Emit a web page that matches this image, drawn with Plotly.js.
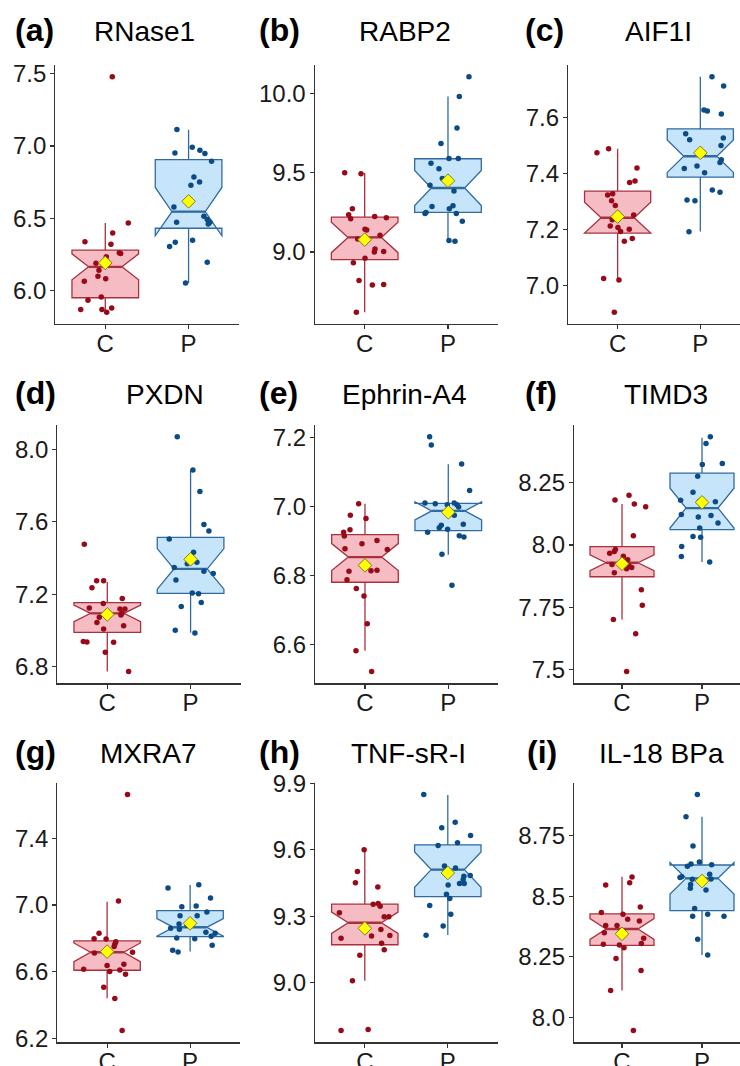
<!DOCTYPE html>
<html><head><meta charset="utf-8">
<script src="https://cdn.plot.ly/plotly-3.0.1.min.js"></script>
<style>html,body{margin:0;padding:0;background:#fff}#chart{width:740px;height:1066px}</style>
</head><body><div id="chart"></div>
<script>
// ---------- DATA ----------
const genes = ['RNase1', 'RABP2', 'AIF1I', 'PXDN', 'Ephrin-A4', 'TIMD3', 'MXRA7', 'TNF-sR-I', 'IL-18 BPa'];
const panelLabels = ['(a)', '(b)', '(c)', '(d)', '(e)', '(f)', '(g)', '(h)', '(i)'];
const groups = ['C', 'P'];

// observations (y) and horizontal jitter offsets (category units)
const RNase1_C = [7.479, 6.468, 6.399, 6.337, 6.320, 6.261, 6.256, 6.233, 6.189, 6.185, 6.140, 6.099, 6.081, 6.064, 5.956, 5.933, 5.869, 5.869, 5.850, 5.880];
const RNase1_C_jit = [0.084, 0.276, 0.089, -0.244, 0.068, 0.168, 0.185, 0.012, -0.112, -0.012, -0.076, -0.088, 0.005, -0.252, -0.048, -0.208, -0.295, -0.040, 0.017, 0.077];
const RNase1_P = [7.115, 6.991, 6.952, 6.970, 6.949, 6.894, 6.786, 6.751, 6.728, 6.578, 6.514, 6.491, 6.472, 6.461, 6.472, 6.348, 6.334, 6.304, 6.196, 6.053];
const RNase1_P_jit = [-0.14, 0.044, -0.164, 0.136, 0.196, 0.276, 0.064, 0.132, 0.028, -0.176, 0.184, 0.224, 0.256, 0.236, -0.144, 0.048, -0.16, -0.228, 0.224, -0.036];

const RABP2_C = [9.499, 9.493, 9.273, 9.235, 9.210, 9.224, 9.216, 9.143, 9.138, 9.105, 9.082, 9.019, 9.000, 9.004, 8.960, 8.933, 8.820, 8.792, 8.795, 8.621];
const RABP2_C_jit = [-0.24, -0.044, -0.148, -0.192, -0.168, 0.12, 0.26, 0.004, 0.024, 0.184, -0.084, 0.124, 0.116, 0.228, 0.004, -0.136, -0.068, 0.092, 0.228, -0.1];
const RABP2_P = [10.103, 9.979, 9.780, 9.683, 9.589, 9.589, 9.558, 9.524, 9.463, 9.421, 9.384, 9.287, 9.291, 9.273, 9.243, 9.249, 9.243, 9.193, 9.073, 9.067];
const RABP2_P_jit = [0.252, 0.136, 0.108, -0.084, 0.012, 0.124, -0.204, -0.108, -0.068, -0.216, 0.072, -0.192, 0.06, 0.016, -0.276, -0.264, 0.1, 0.172, 0.012, 0.084];

const AIF1I_C = [7.475, 7.490, 7.421, 7.374, 7.369, 7.324, 7.329, 7.304, 7.287, 7.253, 7.236, 7.213, 7.208, 7.194, 7.202, 7.159, 7.169, 7.026, 7.020, 6.905];
const AIF1I_C_jit = [-0.25, -0.109, 0.234, 0.21, 0.145, -0.121, -0.06, -0.073, -0.028, 0.194, -0.065, -0.089, 0.004, 0.036, 0.141, 0.081, 0.177, -0.169, 0.016, -0.04];
const AIF1I_P = [7.747, 7.714, 7.628, 7.625, 7.614, 7.543, 7.522, 7.528, 7.501, 7.476, 7.450, 7.440, 7.428, 7.419, 7.404, 7.342, 7.334, 7.306, 7.304, 7.193];
const AIF1I_P_jit = [0.141, 0.282, 0.044, 0.085, 0.254, -0.177, -0.129, 0.278, 0.25, 0.032, 0.254, 0.238, -0.04, -0.194, 0.052, 0.145, 0.238, -0.161, -0.065, -0.137];

const PXDN_C = [7.476, 7.274, 7.274, 7.235, 7.123, 7.149, 7.176, 7.118, 7.118, 7.094, 7.085, 7.072, 7.044, 7.026, 7.008, 6.938, 6.936, 6.934, 6.879, 6.772];
const PXDN_C_jit = [-0.276, -0.128, -0.044, -0.184, -0.216, -0.048, 0.18, 0.152, 0.212, 0.176, 0.164, -0.096, -0.124, 0.196, -0.044, -0.288, -0.244, 0.076, -0.024, 0.256];
const PXDN_P = [8.071, 7.887, 7.768, 7.586, 7.549, 7.505, 7.432, 7.369, 7.377, 7.347, 7.327, 7.314, 7.278, 7.206, 7.202, 7.154, 7.132, 7.000, 6.985];
const PXDN_P_jit = [-0.16, 0.028, 0.112, 0.16, 0.22, -0.256, 0.036, -0.04, 0.076, -0.196, 0.16, 0.272, -0.176, 0.02, 0.096, 0.128, -0.112, -0.184, 0.052];

const EphrinA4_C = [7.008, 6.974, 6.965, 6.925, 6.932, 6.914, 6.901, 6.892, 6.877, 6.875, 6.832, 6.812, 6.813, 6.815, 6.787, 6.762, 6.740, 6.660, 6.581, 6.521];
const EphrinA4_C_jit = [-0.076, -0.176, 0.012, -0.256, -0.18, -0.248, 0.144, -0.036, -0.24, 0.268, -0.016, -0.192, 0.072, 0.144, -0.216, -0.104, -0.012, 0.028, -0.108, 0.08];
const EphrinA4_P = [7.202, 7.178, 7.123, 7.046, 7.010, 7.008, 7.010, 7.005, 6.998, 7.005, 6.974, 6.945, 6.938, 6.925, 6.934, 6.948, 6.915, 6.911, 6.861, 6.771];
const EphrinA4_P_jit = [-0.224, -0.204, 0.16, 0.256, -0.28, -0.156, 0.072, 0.104, 0.124, -0.012, 0.072, -0.084, -0.108, -0.248, -0.008, 0.18, 0.132, 0.188, -0.076, 0.044];

const TIMD3_C = [8.200, 8.180, 8.164, 8.153, 8.037, 7.982, 7.974, 7.967, 7.955, 7.941, 7.922, 7.916, 7.910, 7.905, 7.889, 7.821, 7.759, 7.702, 7.645, 7.493];
const TIMD3_C_jit = [0.0875, -0.0875, 0.154, 0.296, 0.142, -0.083, -0.096, -0.154, 0.017, 0.071, -0.125, 0.0875, 0.121, 0.058, -0.096, 0.242, 0.254, -0.108, 0.171, 0.058];
const TIMD3_P = [8.434, 8.407, 8.323, 8.327, 8.276, 8.212, 8.179, 8.175, 8.173, 8.122, 8.118, 8.112, 8.088, 8.068, 8.034, 8.031, 7.994, 7.954, 7.932];
const TIMD3_P_jit = [0.104, 0.05, 0.004, 0.254, -0.054, -0.1125, -0.267, -0.033, 0.167, -0.258, 0.1125, -0.046, 0.2, -0.029, -0.1125, -0.017, -0.254, -0.258, 0.096];

const MXRA7_C = [7.664, 7.024, 6.830, 6.798, 6.796, 6.780, 6.764, 6.750, 6.712, 6.716, 6.716, 6.636, 6.644, 6.614, 6.600, 6.610, 6.584, 6.506, 6.438, 6.246];
const MXRA7_C_jit = [0.246, 0.137, -0.097, -0.157, -0.012, 0.105, 0.093, 0.085, -0.153, 0.032, 0.306, 0, 0.202, -0.282, 0.032, 0.153, 0.222, -0.04, 0.093, 0.181];
const MXRA7_P = [7.102, 7.122, 7.042, 6.990, 6.994, 6.958, 6.936, 6.936, 6.886, 6.878, 6.860, 6.854, 6.836, 6.830, 6.812, 6.802, 6.798, 6.758, 6.728, 6.718];
const MXRA7_P_jit = [-0.266, 0.105, 0.246, -0.1, 0.073, 0.202, -0.121, 0.085, -0.133, -0.036, -0.234, -0.129, 0.19, 0.302, 0.254, -0.161, 0.056, 0.266, -0.21, -0.145];

const TNFsRI_C = [9.600, 9.502, 9.451, 9.432, 9.354, 9.357, 9.345, 9.315, 9.297, 9.297, 9.240, 9.200, 9.210, 9.213, 9.178, 9.148, 9.124, 9.009, 8.784, 8.789];
const TNFsRI_C_jit = [-0.008, -0.089, -0.113, 0.157, 0.101, 0.161, 0.185, -0.306, 0.234, 0.29, 0.194, -0.286, 0.081, 0.302, 0.202, 0.234, -0.06, -0.149, -0.286, 0.04];
const TNFsRI_P = [9.849, 9.724, 9.699, 9.664, 9.619, 9.631, 9.526, 9.517, 9.480, 9.483, 9.465, 9.447, 9.447, 9.441, 9.399, 9.380, 9.348, 9.309, 9.256, 9.214];
const TNFsRI_P_jit = [-0.29, 0.089, -0.073, 0.274, -0.117, 0.117, -0.04, 0.093, 0.194, 0.27, 0.185, 0.141, 0.198, 0.004, -0.016, 0.024, -0.218, 0.036, -0.056, -0.262];

const IL18BPa_C = [8.547, 8.580, 8.556, 8.456, 8.433, 8.426, 8.405, 8.398, 8.379, 8.379, 8.349, 8.327, 8.302, 8.299, 8.288, 8.305, 8.243, 8.194, 8.111, 7.946];
const IL18BPa_C_jit = [-0.204, 0.125, 0.096, 0.229, -0.258, 0.0125, 0.071, 0.217, -0.204, -0.0625, -0.221, 0.271, -0.233, -0.033, 0.025, 0.242, -0.075, 0.238, -0.142, 0.142];
const IL18BPa_P = [8.920, 8.828, 8.707, 8.624, 8.633, 8.641, 8.630, 8.581, 8.577, 8.549, 8.591, 8.571, 8.570, 8.533, 8.526, 8.449, 8.418, 8.426, 8.418, 8.323, 8.258];
const IL18BPa_P_jit = [-0.058, -0.2, -0.1125, -0.183, -0.1375, -0.033, 0.121, -0.254, -0.275, -0.142, 0.0958, 0.1125, -0.121, -0.146, 0.05, -0.092, -0.117, 0.071, 0.275, -0.054, 0.071];

// box statistics per gene (same order as genes)
const q1C     = [5.950, 8.952, 7.188, 6.989, 6.780, 7.873, 6.608, 9.171, 8.297];
const medianC = [6.164, 9.092, 7.243, 7.094, 6.853, 7.929, 6.716, 9.270, 8.365];
const q3C     = [6.279, 9.220, 7.338, 7.153, 6.918, 7.994, 6.784, 9.354, 8.427];
const lowC    = [5.850, 8.621, 7.021, 6.772, 6.581, 7.702, 6.440, 9.009, 8.111];
const highC   = [6.468, 9.497, 7.490, 7.268, 7.008, 8.164, 7.020, 9.600, 8.581];
const notchC  = [0.090, 0.096, 0.055, 0.046, 0.039, 0.032, 0.056, 0.048, 0.043];
const meanC   = [6.191, 9.078, 7.247, 7.088, 6.829, 7.925, 6.720, 9.245, 8.345];

const q1P     = [6.431, 9.249, 7.388, 7.204, 6.930, 8.062, 6.810, 9.388, 8.441];
const medianP = [6.546, 9.403, 7.463, 7.340, 6.987, 8.148, 6.866, 9.510, 8.574];
const q3P     = [6.906, 9.587, 7.561, 7.514, 7.009, 8.288, 6.966, 9.622, 8.629];
const lowP    = [6.053, 9.071, 7.194, 6.987, 6.860, 7.932, 6.720, 9.215, 8.258];
const highP   = [7.113, 9.979, 7.747, 7.887, 7.122, 8.430, 7.120, 9.847, 8.828];
const notchP  = [0.167, 0.110, 0.058, 0.112, 0.026, 0.080, 0.053, 0.080, 0.065];
const meanP   = [6.617, 9.449, 7.475, 7.393, 6.983, 8.171, 6.890, 9.495, 8.563];

// y tick values and labels
const yTickVals = [[6.0, 6.5, 7.0, 7.5], [9.0, 9.5, 10.0], [7.0, 7.2, 7.4, 7.6], [6.8, 7.2, 7.6, 8.0], [6.6, 6.8, 7.0, 7.2], [7.5, 7.75, 8.0, 8.25], [6.2, 6.6, 7.0, 7.4], [9.0, 9.3, 9.6, 9.9], [8.0, 8.25, 8.5, 8.75]];
const yTickText = [['6.0', '6.5', '7.0', '7.5'], ['9.0', '9.5', '10.0'], ['7.0', '7.2', '7.4', '7.6'], ['6.8', '7.2', '7.6', '8.0'], ['6.6', '6.8', '7.0', '7.2'], ['7.5', '7.75', '8.0', '8.25'], ['6.2', '6.6', '7.0', '7.4'], ['9.0', '9.3', '9.6', '9.9'], ['8.0', '8.25', '8.5', '8.75']];

const obsC = [RNase1_C, RABP2_C, AIF1I_C, PXDN_C, EphrinA4_C, TIMD3_C, MXRA7_C, TNFsRI_C, IL18BPa_C];
const jitC = [RNase1_C_jit, RABP2_C_jit, AIF1I_C_jit, PXDN_C_jit, EphrinA4_C_jit, TIMD3_C_jit, MXRA7_C_jit, TNFsRI_C_jit, IL18BPa_C_jit];
const obsP = [RNase1_P, RABP2_P, AIF1I_P, PXDN_P, EphrinA4_P, TIMD3_P, MXRA7_P, TNFsRI_P, IL18BPa_P];
const jitP = [RNase1_P_jit, RABP2_P_jit, AIF1I_P_jit, PXDN_P_jit, EphrinA4_P_jit, TIMD3_P_jit, MXRA7_P_jit, TNFsRI_P_jit, IL18BPa_P_jit];

// ---------- LAYOUT (pixel geometry) ----------
const W = 740, H = 1066;
const plotLeft = [55.3, 314.7, 568, 57.3, 315, 574, 57.3, 315, 574];
const unitPx   = [83.3, 83.3, 82.7, 83.3, 83.3, 80, 83, 83, 80];
const rowTop = [65, 425, 782.7];
const rowBottom = [324, 683.3, 1042.3];
const titleX = [144.7, 405, 658.8, 165, 405, 665.8, 148, 408.3, 661.7];
const labelX = [13, 256.7, 523.3, 12.7, 256.7, 523.3, 13.3, 257.3, 525];
const titleY = [31.6, 394, 753.3];
const labelY = [30.2, 392.6, 751.9];

const FONT = 'Liberation Sans, Arial, sans-serif';
const COL = {
  C: {fill: '#F5BCC3', line: '#A9303D', pt: '#990A18'},
  P: {fill: '#C6E5FA', line: '#2F6BA1', pt: '#0C4C86'}
};
const AXC = '#333333';

const traces = [];
const layout = {
  width: W, height: H,
  margin: {l: 0, r: 0, t: 0, b: 0},
  paper_bgcolor: '#fff', plot_bgcolor: '#fff',
  showlegend: false, boxmode: 'overlay',
  annotations: []
};

for (let k = 0; k < 9; k++) {
  const s = k === 0 ? '' : String(k + 1);
  const xa = 'x' + s, ya = 'y' + s;
  const row = Math.floor(k / 3);

  const groupsData = {
    C: {q1: q1C[k], med: medianC[k], q3: q3C[k], lo: lowC[k], hi: highC[k], n: notchC[k], y: obsC[k], j: jitC[k], pos: 1},
    P: {q1: q1P[k], med: medianP[k], q3: q3P[k], lo: lowP[k], hi: highP[k], n: notchP[k], y: obsP[k], j: jitP[k], pos: 2}
  };

  // notched boxes
  groups.forEach(g => {
    const d = groupsData[g];
    traces.push({
      type: 'box', orientation: 'v', xaxis: xa, yaxis: ya,
      x: [d.pos], q1: [d.q1], median: [d.med], q3: [d.q3],
      lowerfence: [d.lo], upperfence: [d.hi], notchspan: [d.n],
      notched: true, notchwidth: 0.25, width: 0.8, whiskerwidth: 0,
      boxpoints: false, fillcolor: COL[g].fill,
      line: {color: COL[g].line, width: 1.3}, hoverinfo: 'skip'
    });
  });
  // thicker median bar (spans the notch waist: half of box width)
  groups.forEach(g => {
    const d = groupsData[g];
    traces.push({
      type: 'scatter', mode: 'lines', xaxis: xa, yaxis: ya,
      x: [d.pos - 0.2, d.pos + 0.2], y: [d.med, d.med],
      line: {color: COL[g].line, width: 2.4}, hoverinfo: 'skip'
    });
  });
  // jittered points
  groups.forEach(g => {
    const d = groupsData[g];
    traces.push({
      type: 'scatter', mode: 'markers', xaxis: xa, yaxis: ya,
      x: d.j.map(v => d.pos + v), y: d.y,
      marker: {size: 5.5, color: COL[g].pt}, hoverinfo: 'y'
    });
  });
  // means
  traces.push({
    type: 'scatter', mode: 'markers', xaxis: xa, yaxis: ya,
    x: [1, 2], y: [meanC[k], meanP[k]],
    marker: {symbol: 'diamond', size: 10.5, color: '#FFFF00', line: {color: '#7A7A2A', width: 1}},
    hoverinfo: 'y'
  });

  // ranges (ggplot style 5% expansion)
  const all = obsC[k].concat(obsP[k], [lowC[k], highC[k], lowP[k], highP[k]]);
  const mn = Math.min(...all), mx = Math.max(...all), pad = (mx - mn) * 0.05;
  const left = plotLeft[k];
  const fullRight = left + 2.2 * unitPx[k];
  const right = Math.min(fullRight, W);
  const xEnd = 0.4 + (right - left) / unitPx[k];

  layout['xaxis' + s] = {
    domain: [left / W, right / W], anchor: ya, range: [0.4, xEnd],
    tickmode: 'array', tickvals: [1, 2], ticktext: groups,
    showline: true, linecolor: AXC, linewidth: 1.2, mirror: false,
    ticks: 'outside', ticklen: 4, tickwidth: 1.1, tickcolor: AXC,
    ticklabelstandoff: -6,
    tickfont: {family: FONT, size: 24, color: '#1a1a1a'},
    showgrid: false, zeroline: false, fixedrange: true
  };
  layout['yaxis' + s] = {
    domain: [1 - rowBottom[row] / H, 1 - rowTop[row] / H], anchor: xa,
    range: [mn - pad, mx + pad],
    tickmode: 'array', tickvals: yTickVals[k], ticktext: yTickText[k],
    showline: true, linecolor: AXC, linewidth: 1.2, mirror: false,
    ticks: 'outside', ticklen: 4, tickwidth: 1.1, tickcolor: AXC,
    ticklabelstandoff: -1,
    tickfont: {family: FONT, size: 24, color: '#1a1a1a'},
    showgrid: false, zeroline: false, fixedrange: true
  };

  layout.annotations.push({
    xref: 'paper', yref: 'paper', x: titleX[k] / W, y: 1 - titleY[row] / H,
    xanchor: 'center', yanchor: 'middle', showarrow: false,
    text: genes[k], font: {family: FONT, size: 28, color: '#000'}
  });
  layout.annotations.push({
    xref: 'paper', yref: 'paper', x: labelX[k] / W, y: 1 - labelY[row] / H,
    xanchor: 'left', yanchor: 'middle', showarrow: false,
    text: '<b>' + panelLabels[k] + '</b>', font: {family: FONT, size: 32, color: '#000'}
  });
}

Plotly.newPlot('chart', traces, layout, {displayModeBar: false, staticPlot: true});
</script>
</body></html>
